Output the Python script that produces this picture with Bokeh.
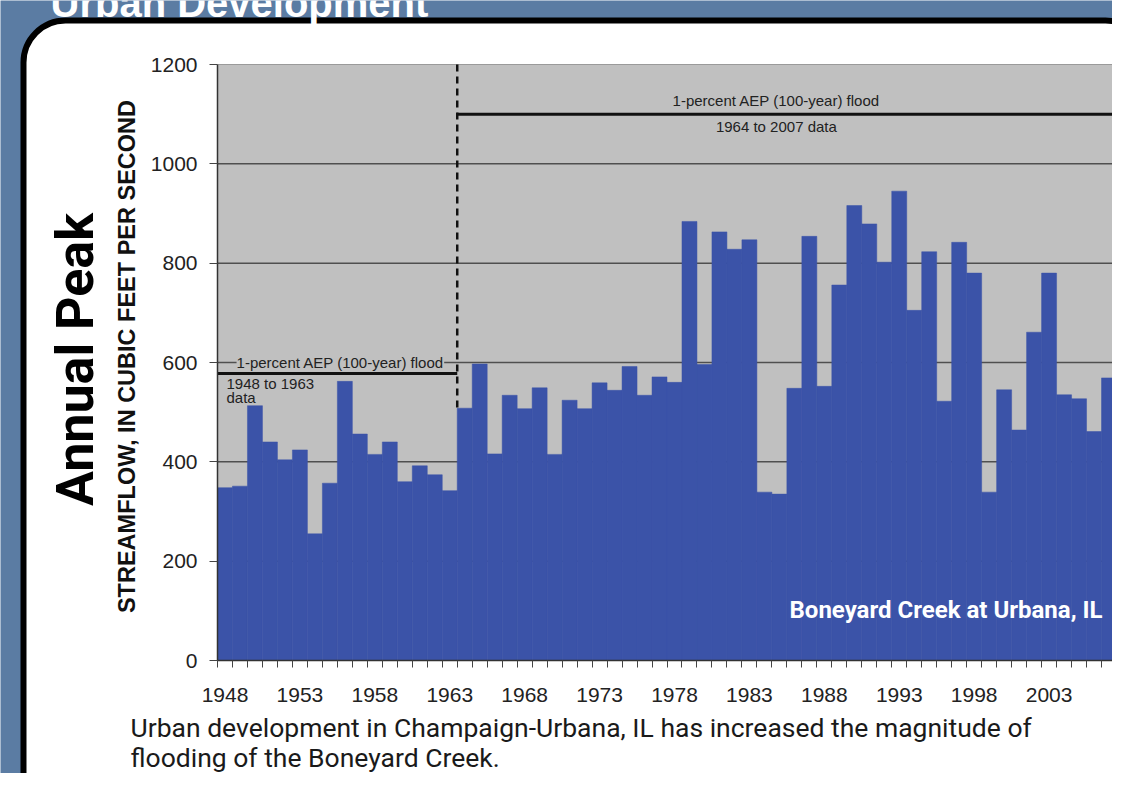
import math
from bokeh.plotting import figure
from bokeh.models import Range1d, FixedTicker, BoxAnnotation, Label
from bokeh.embed import file_html
from bokeh.resources import INLINE

# ---------------- data ----------------
years = list(range(1948, 2008))
peaks = [348, 351, 513, 440, 404, 424, 255, 357, 562, 456,
         415, 440, 360, 392, 374, 342, 508, 597, 416, 534,
         507, 549, 415, 524, 507, 559, 544, 592, 534, 571,
         560, 884, 596, 863, 828, 847, 339, 335, 548, 854,
         552, 756, 916, 879, 802, 945, 705, 823, 522, 842,
         780, 339, 545, 464, 661, 780, 535, 527, 461, 569]
label_years = [1948, 1953, 1958, 1963, 1968, 1973, 1978, 1983, 1988, 1993, 1998, 2003]
y_ticks = [0, 200, 400, 600, 800, 1000, 1200]
flood_starts = [1948, 1964]
flood_ends = [1963, 2007]
flood_levels = [578, 1100]
flood_texts = ["1948 to 1963", "1964 to 2007 data"]
flood_title = "1-percent AEP (100-year) flood"
divider_bottom = 502

BLUE = "#3b53a8"
BG_BLUE = "#5b7ca3"
GRAY = "#c0c0c0"
COND = "Roboto"
SANS = "Liberation Sans"

W, H = 1112, 773
# plot area in pixels (canvas coordinates)
PL, PR, PT, PB = 217, 1116, 64, 660
x_lo, x_hi = years[0] - 0.5, years[-1] + 0.5
y_lo, y_hi = y_ticks[0], y_ticks[-1]
kx = (PR - PL) / (x_hi - x_lo)
ky = (PB - PT) / (y_hi - y_lo)
x_range = Range1d(x_lo - PL / kx, x_lo + (W - PL) / kx)
y_range = Range1d(y_lo - (H - PB) / ky, y_lo + PB / ky)

p = figure(width=W, height=H, output_backend="svg", toolbar_location=None,
           x_range=x_range, y_range=y_range, title=None,
           min_border=0, min_border_left=0, min_border_right=0,
           min_border_top=0, min_border_bottom=0,
           border_fill_color=BG_BLUE, background_fill_color=BG_BLUE,
           outline_line_color=None)


def sx(x):
    return x


def sy(y):
    return H - y


# white rounded panel with thick black border
panel = BoxAnnotation(left=sx(23), right=sx(1147), top=sy(20), bottom=sy(830),
                      left_units="screen", right_units="screen",
                      top_units="screen", bottom_units="screen",
                      fill_color="white", fill_alpha=1.0, line_color="black",
                      line_alpha=1.0, line_width=6, border_radius=42, level="image")
p.add_layout(panel)
# gray plot area
plot_bg = BoxAnnotation(left=x_lo, right=x_hi, bottom=y_lo, top=y_hi,
                        fill_color=GRAY, fill_alpha=1.0, line_color=None, level="image")
p.add_layout(plot_bg)

p.xgrid.visible = False
p.ygrid.visible = False

# horizontal grid lines
grid_y = y_ticks[1:-1]
p.segment(x0=[x_lo] * len(grid_y), x1=[x_hi] * len(grid_y), y0=grid_y, y1=grid_y,
          line_color="#4f4f4f", line_width=1.5)
p.segment(x0=[x_lo], x1=[x_hi], y0=[y_hi], y1=[y_hi], line_color="#9a9a9a", line_width=1)

# y axis
yax = p.yaxis[0]
yax.fixed_location = x_lo
yax.bounds = (y_lo, y_hi)
yax.ticker = FixedTicker(ticks=y_ticks)
yax.major_label_text_font = SANS
yax.major_label_text_font_size = "21px"
yax.major_label_text_color = "#222222"
yax.major_tick_out = 8
yax.major_tick_in = 0
yax.minor_tick_out = 0
yax.minor_tick_in = 0
yax.major_label_standoff = 12
yax.axis_line_color = "#333333"
yax.axis_line_width = 1.5
yax.major_tick_line_color = "#444444"

# x axis
xax = p.xaxis[0]
xax.fixed_location = y_lo
xax.bounds = (x_lo, x_hi)
bounds = [y - 0.5 for y in years] + [years[-1] + 0.5]
xax.ticker = FixedTicker(ticks=label_years, minor_ticks=bounds)
xax.major_label_text_font = SANS
xax.major_label_text_font_size = "21px"
xax.major_label_text_color = "#222222"
xax.major_tick_out = 0
xax.major_tick_in = 0
xax.minor_tick_out = 7
xax.minor_tick_in = 0
xax.minor_tick_line_color = "#444444"
xax.major_label_standoff = 20
xax.axis_line_color = "#333333"
xax.axis_line_width = 1.5

# bars
p.vbar(x=years, top=peaks, width=1.0, fill_color=BLUE, line_color=BLUE, line_width=0.5)

# flood lines
x0 = [s - 0.5 for s in flood_starts]
x1 = [e + 0.5 for e in flood_ends]
p.segment(x0=x0, y0=flood_levels, x1=x1, y1=flood_levels, line_color="#111111", line_width=3)
p.segment(x0=[x1[0]], y0=[y_hi], x1=[x1[0]], y1=[divider_bottom],
          line_color="#111111", line_width=2.5, line_dash="7 5")

# flood labels
p.add_layout(Label(x=1955.7, y=600, text=flood_title, text_align="center",
                   text_baseline="middle", text_font=SANS, text_font_size="15px",
                   text_color="#222222", background_fill_color=GRAY,
                   background_fill_alpha=1.0))
p.add_layout(Label(x=1948.1, y=574, text=flood_texts[0], text_align="left",
                   text_baseline="top", text_font=SANS, text_font_size="15px",
                   text_color="#222222"))
p.add_layout(Label(x=1948.1, y=546, text="data", text_align="left",
                   text_baseline="top", text_font=SANS, text_font_size="15px",
                   text_color="#222222"))
p.add_layout(Label(x=1984.8, y=1127, text=flood_title, text_align="center",
                   text_baseline="middle", text_font=SANS, text_font_size="15px",
                   text_color="#222222"))
p.add_layout(Label(x=1984.8, y=1075, text=flood_texts[1], text_align="center",
                   text_baseline="middle", text_font=SANS, text_font_size="15px",
                   text_color="#222222"))

# station label
p.add_layout(Label(x=sx(1102), y=sy(609), x_units="screen", y_units="screen",
                   text="Boneyard Creek at Urbana, IL", text_align="right",
                   text_baseline="middle", text_font=COND, text_font_size="24px",
                   text_font_style="bold", text_color="white"))

# texts around the chart
p.add_layout(Label(x=sx(126), y=sy(356), x_units="screen", y_units="screen",
                   text="STREAMFLOW, IN CUBIC FEET PER SECOND", angle=math.pi / 2,
                   text_align="center", text_baseline="middle", text_font=SANS,
                   text_font_size="23.5px", text_font_style="bold", text_color="#111111"))
p.add_layout(Label(x=sx(75), y=sy(359), x_units="screen", y_units="screen",
                   text="Annual Peak", angle=math.pi / 2,
                   text_align="center", text_baseline="middle", text_font=COND,
                   text_font_size="52px", text_font_style="bold", text_color="black"))
p.add_layout(Label(x=sx(50), y=sy(2), x_units="screen", y_units="screen",
                   text="Urban Development", text_align="left",
                   text_baseline="alphabetic", text_font=SANS,
                   text_font_size="40px", text_font_style="bold", text_color="white"))
p.add_layout(Label(x=sx(130), y=sy(727), x_units="screen", y_units="screen",
                   text="Urban development in Champaign-Urbana, IL has increased the magnitude of",
                   text_align="left", text_baseline="middle", text_font=COND,
                   text_font_size="26.5px", text_color="#1a1a1a"))
p.add_layout(Label(x=sx(130), y=sy(757), x_units="screen", y_units="screen",
                   text="flooding of the Boneyard Creek.",
                   text_align="left", text_baseline="middle", text_font=COND,
                   text_font_size="26.5px", text_color="#1a1a1a"))

open("out.html", "w").write(file_html(p, INLINE))
